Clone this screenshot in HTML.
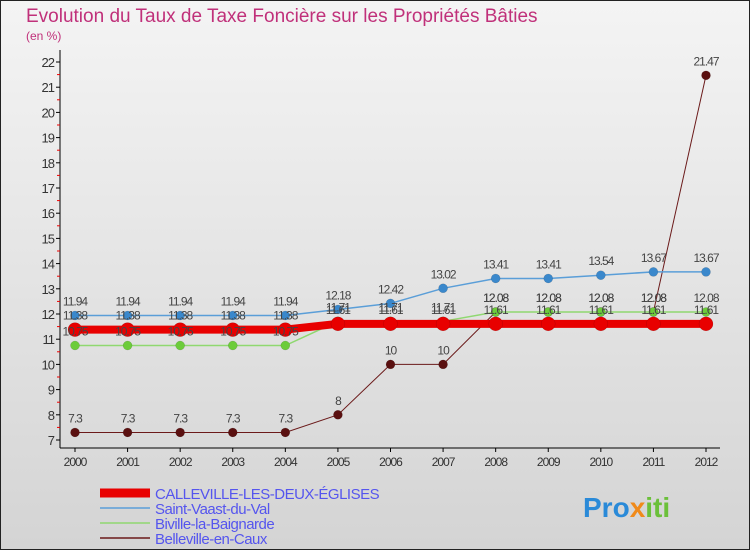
<!DOCTYPE html>
<html><head><meta charset="utf-8"><style>
body{margin:0;width:750px;height:550px;overflow:hidden;font-family:"Liberation Sans",sans-serif}
</style></head><body>
<svg width="750" height="550" xmlns="http://www.w3.org/2000/svg" font-family="Liberation Sans, sans-serif">
<defs><linearGradient id="bg" x1="0" y1="0" x2="0" y2="1"><stop offset="0" stop-color="#f4f4f4"/><stop offset="1" stop-color="#d4d4d4"/></linearGradient></defs>
<rect x="0.5" y="0.5" width="749" height="549" fill="url(#bg)" stroke="#222"/>
<text x="26" y="22" font-size="19" fill="#c0307a">Evolution du Taux de Taxe Foncière sur les Propriétés Bâties</text>
<text x="26" y="40" font-size="12" fill="#c0307a">(en %)</text>
<g id="axes"></g>
<g id="series"></g>
<g id="labels"></g>
<g id="legend"></g>
<text x="583" y="517" font-size="28" font-weight="bold" fill="#2a8ad8">Pro<tspan fill="#f08a1a">x</tspan><tspan fill="#6bc03a">iti</tspan></text>
</svg>
<script>
const years=[2000,2001,2002,2003,2004,2005,2006,2007,2008,2009,2010,2011,2012];
const yTicks=[7,8,9,10,11,12,13,14,15,16,17,18,19,20,21,22];
const calleville=[11.38,11.38,11.38,11.38,11.38,11.61,11.61,11.61,11.61,11.61,11.61,11.61,11.61];
const saintVaast=[11.94,11.94,11.94,11.94,11.94,12.18,12.42,13.02,13.41,13.41,13.54,13.67,13.67];
const biville=[10.75,10.75,10.75,10.75,10.75,11.71,11.71,11.71,12.08,12.08,12.08,12.08,12.08];
const belleville=[7.3,7.3,7.3,7.3,7.3,8,10,10,12.08,12.08,12.08,12.08,21.47];
const names=["CALLEVILLE-LES-DEUX-ÉGLISES","Saint-Vaast-du-Val","Biville-la-Baignarde","Belleville-en-Caux"];
const NS="http://www.w3.org/2000/svg";
const x=i=>75+i*(706-75)/12;
const y=v=>440-(v-7)*25.2;
function mk(tag,attrs,parent,text){const e=document.createElementNS(NS,tag);for(const k in attrs)e.setAttribute(k,attrs[k]);if(text!==undefined)e.textContent=text;parent.appendChild(e);return e;}
const ax=document.getElementById('axes');
let e=mk('line',{x1:60,y1:50,x2:60,y2:448,stroke:'#000'},ax);

e=mk('line',{x1:60,y1:448,x2:720,y2:448,stroke:'#000'},ax);

yTicks.forEach(v=>{mk('line',{x1:56,y1:y(v),x2:60,y2:y(v),stroke:'#000'},ax);
 if(v<22)mk('line',{x1:57,y1:y(v+0.5),x2:60,y2:y(v+0.5),stroke:'#e00'},ax);
 e=mk('text',{x:54,y:y(v)+5,'font-size':13,'text-anchor':'end',fill:'#333','letter-spacing':'-1'},ax,v);
 });
years.forEach((yr,i)=>{mk('line',{x1:x(i),y1:448,x2:x(i),y2:452,stroke:'#000'},ax);
 e=mk('text',{x:x(i),y:466,'font-size':12,'text-anchor':'middle',fill:'#333','letter-spacing':'-1'},ax,yr);
 });
const sg=document.getElementById('series');
const lb=document.getElementById('labels');
const defs=[[belleville,'#6b1a1a','#5a1010',1,4.5],[biville,'#8fd870','#6ccc3a',1.5,4.5],[saintVaast,'#5a9ed8','#3a88cc',1.5,4.5],[calleville,'#e80000','#e80000',8,7]];
const dn=['series-belleville','series-biville','series-saint-vaast','series-calleville'];
defs.forEach((d,k)=>{const g=mk('g',{},sg);
 
 const pts=d[0].map((v,i)=>x(i)+','+y(v)).join(' ');
 mk('polyline',{points:pts,fill:'none',stroke:d[1],'stroke-width':d[3]},g);
 d[0].forEach((v,i)=>{e=mk('circle',{cx:x(i),cy:y(v),r:d[4],fill:d[2],stroke:'#0003','stroke-width':0.5},g);
  
  mk('text',{x:x(i),y:y(v)-10,'font-size':12,'text-anchor':'middle',fill:'#444','letter-spacing':'-1'},lb,String(v));});
});
const lg=document.getElementById('legend');
const lc=['#e80000','#5a9ed8','#8fd870','#6b1a1a'],lw=[9,1.5,1.5,1.5];
names.forEach((n,k)=>{const ly=493+k*15;const g=mk('g',{},lg);
 
 mk('line',{x1:100,y1:ly,x2:150,y2:ly,stroke:lc[k],'stroke-width':lw[k]},g);
 mk('text',{x:155,y:ly+6,'font-size':15,fill:'#5555ee','letter-spacing':'-0.5'},g,n);});
</script>
</body></html>
